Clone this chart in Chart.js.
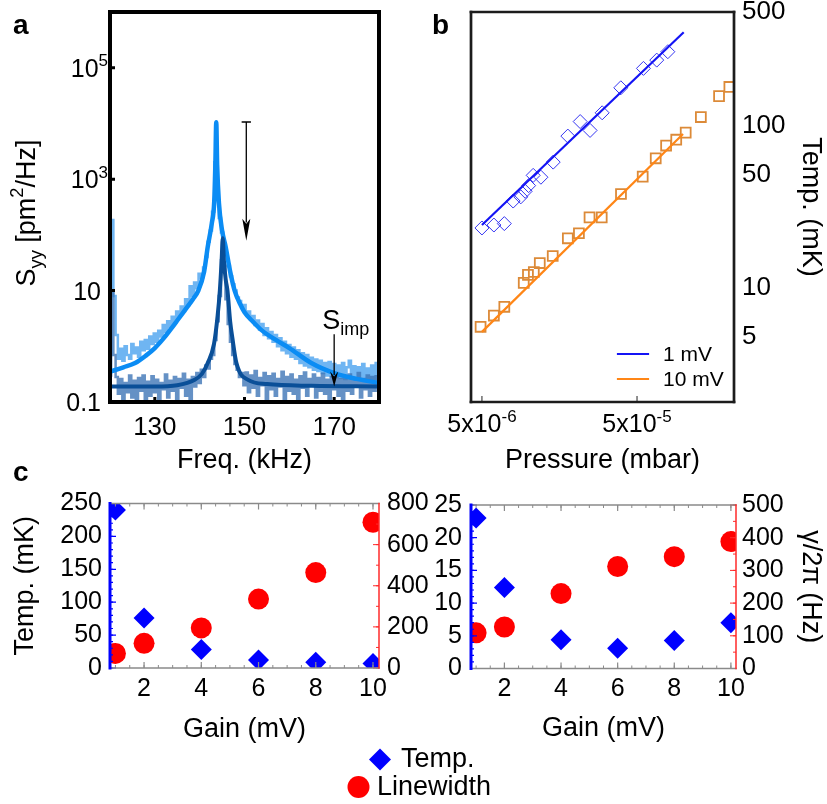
<!DOCTYPE html>
<html>
<head>
<meta charset="utf-8">
<script src="https://cdn.jsdelivr.net/npm/chart.js@4.4.1/dist/chart.umd.min.js"></script>
<style>
html, body { margin: 0; padding: 0; background: #fff; }
body { width: 827px; height: 804px; position: relative; overflow: hidden; font-family: 'Liberation Sans', Arial, sans-serif; }
canvas { position: absolute; }
.lbl { position: absolute; font-weight: bold; font-size: 28px; line-height: 28px; color: #000; }
</style>
</head>
<body>
<canvas id="chartA" width="400" height="480" style="left:0;top:0"></canvas>
<canvas id="chartB" width="427" height="480" style="left:400px;top:0"></canvas>
<canvas id="chartC1" width="440" height="324" style="left:0;top:480px"></canvas>
<canvas id="chartC2" width="427" height="324" style="left:400px;top:480px"></canvas>
<canvas id="legendC" width="827" height="64" style="left:0;top:740px"></canvas>
<div class="lbl" style="left:13px;top:11px">a</div>
<div class="lbl" style="left:432px;top:11px">b</div>
<div class="lbl" style="left:13px;top:458px">c</div>

<script>
// ---- panel a : displacement spectra ----
const gridFreq = [
  120,120.5,121,121.5,122,122.5,123,123.5,124,124.5,
  125,125.5,126,126.5,127,127.5,128,128.5,129,129.5,
  130,130.5,131,131.5,132,132.5,133,133.5,134,134.5,
  135,135.5,136,136.5,137,137.5,138,138.5,139,139.5,
  140,140.5,141,141.5,142,142.5,143,143.5,144,144.5,
  145,145.5,146,146.5,147,147.5,148,148.5,149,149.5,
  150,150.5,151,151.5,152,152.5,153,153.5,154,154.5,
  155,155.5,156,156.5,157,157.5,158,158.5,159,159.5,
  160,160.5,161,161.5,162,162.5,163,163.5,164,164.5,
  165,165.5,166,166.5,167,167.5,168,168.5,169,169.5,
  170,170.5,171,171.5,172,172.5,173,173.5,174,174.5,
  175,175.5,176,176.5,177,177.5,178,178.5,179,179.5,
  180
];
const rawWarm = [
  0.7,185,8,1.6,0.6,0.9,0.55,1.0,0.7,0.6,
  1.1,0.75,0.95,0.65,1.2,0.85,1.3,0.9,1.5,1.1,
  1.7,1.2,1.9,1.5,2.4,1.8,2.8,2.2,3.4,2.7,
  4.2,3.4,5.2,4.3,7,5.5,12,8,14,11,
  20,17,26,40,75,120,260,2000,900,200,
  110,70,45,28,18,13,10,7.5,6.5,5,
  5.5,3.8,4.2,3.0,3.5,2.4,2.9,2.0,2.5,1.6,
  2.1,1.4,1.8,1.2,1.6,1.0,1.4,0.85,1.2,0.75,
  1.05,0.65,0.95,0.6,0.85,0.5,0.75,0.45,0.7,0.42,
  0.62,0.38,0.58,0.36,0.55,0.33,0.5,0.3,0.52,0.29,
  0.48,0.28,0.45,0.27,0.5,0.26,0.42,0.55,0.27,0.44,
  0.25,0.42,0.26,0.48,0.25,0.4,0.24,0.45,0.26,0.5,
  0.3
];
const rawCold = [
  0.3,10,0.7,0.28,0.14,0.26,0.1,0.22,0.15,0.3,
  0.12,0.24,0.08,0.27,0.16,0.3,0.11,0.23,0.13,0.29,
  0.15,0.25,0.09,0.22,0.17,0.31,0.12,0.24,0.16,0.28,
  0.11,0.26,0.18,0.32,0.13,0.25,0.07,0.28,0.19,0.33,
  0.22,0.38,0.28,0.45,0.4,0.6,0.7,1.3,2.8,8,
  35,28,7,2.5,1.2,0.7,0.48,0.38,0.28,0.33,
  0.2,0.34,0.15,0.3,0.18,0.36,0.13,0.27,0.2,0.33,
  0.11,0.29,0.17,0.32,0.13,0.26,0.19,0.35,0.1,0.28,
  0.16,0.31,0.14,0.25,0.09,0.29,0.18,0.34,0.13,0.26,
  0.2,0.31,0.12,0.27,0.16,0.32,0.14,0.25,0.1,0.28,
  0.17,0.3,0.13,0.26,0.07,0.27,0.16,0.31,0.14,0.25,
  0.19,0.33,0.12,0.26,0.17,0.3,0.13,0.28,0.16,0.29,
  0.2
];
const fitWarmF = [120,123,125.6,128,130,132,133.4,135,137,138.5,139.7,141,141.8,142.7,143.25,143.5,143.7,143.9,144.3,145,145.8,146.8,147.8,149,150,152,153.8,157,160,164.9,170,175,180];
const fitWarmS = [0.35,0.42,0.5,0.68,0.93,1.4,1.95,2.9,4.8,7,10,22,61,160,400,1800,10500,1800,372,120,61,22,10,5.8,4.1,2.7,1.95,1.3,0.93,0.5,0.33,0.26,0.22];
const fitColdF = [120,130,135,138.9,140.5,141.8,143.2,144.0,144.5,144.9,145.15,145.4,145.8,146.2,146.8,147.3,148.2,150.8,155,165,180];
const fitColdS = [0.19,0.19,0.2,0.25,0.32,0.5,1.1,3.5,10,35,87,35,16,10,2.8,1.4,0.5,0.25,0.21,0.195,0.19];
const aXTicks = [130, 150, 170];
const aYTicks = [0.1, 10, 1000, 100000];
const aYLabels = [['0.1', ''], ['10', ''], ['10', '3'], ['10', '5']];
const coolArrow = { f: 150.4, from: 1.06e4, to: 78 };
const impArrow = { f: 170, from: 1.6, to: 0.19 };

// ---- panel b : temperature vs pressure ----
const p1mV = [5.0e-6,5.97e-6,6.97e-6,7.95e-6,8.9e-6,9.5e-6,1.0e-5,1.07e-5,1.2e-5,1.44e-5,1.79e-5,2.15e-5,2.49e-5,2.98e-5,3.93e-5,5.5e-5,6.7e-5,7.9e-5];
const t1mV = [23.5,24.5,25,34.4,36.5,39.5,42.8,49.5,48.2,59.7,86.3,106,93.5,120,171,225,253,285];
const p10mV = [4.9e-6,5.97e-6,6.97e-6,9.3e-6,9.9e-6,1.08e-5,1.18e-5,1.43e-5,1.79e-5,2.11e-5,2.47e-5,2.96e-5,3.94e-5,5.44e-5,6.6e-5,7.7e-5,8.95e-5,1.03e-4,1.29e-4,1.69e-4,1.97e-4];
const t10mV = [5.8,6.8,7.7,10.8,12.1,12.6,14.3,15.8,20.3,21.8,27.3,27.3,38,48.6,63,75.5,82,90.6,113,152,173];
const fit1mVP = [5e-6, 1e-4];
const fit1mVT = [24.5, 375];
const fit10mVP = [5e-6, 9.9e-5];
const fit10mVT = [5.4, 89];
const bXTicks = [5e-6, 5e-5];
const bXLabels = [['5x10', '-6'], ['5x10', '-5']];
const bYTicks = [5, 10, 50, 100, 500];

// ---- panel c : gain sweeps ----
const gain = [1, 2, 4, 6, 8, 10];
const gainTicks = [2, 4, 6, 8, 10];
const tempLeft = [240, 76, 28, 12, 8.6, 7];
const widthLeft = [71, 120, 195, 335, 464, 709];
const tempRight = [23.0, 12.4, 4.4, 3.1, 4.3, 7.0];
const widthRight = [109, 127, 229, 312, 342, 388];
const legendLabels = ['Temp.', 'Linewidth'];

const FONT = "'Liberation Sans', Arial, sans-serif";
Chart.defaults.font.family = FONT;
Chart.defaults.color = '#000';

function zip(xs, ys) { return xs.map((x, i) => ({ x: x, y: ys[i] })); }
function onlyTicks(vals) { return s => { s.ticks = vals.map(v => ({ value: v })); }; }
function fixW(w) { return s => { s.width = w; s.paddingTop = 0; s.paddingBottom = 0; }; }
function fixH(h) { return s => { s.height = h; s.paddingLeft = 0; s.paddingRight = 0; }; }
function range(a, b, st) { const r = []; for (let v = a; v <= b + 1e-9; v += st) r.push(+v.toFixed(6)); return r; }

// text with sub/superscripts; y is the vertical centre of the capitals
function richText(ctx, segs, x, y, size, rot, align) {
  ctx.save();
  ctx.translate(x, y);
  ctx.rotate(rot || 0);
  const parts = segs.filter(s => s.t).map(s => {
    const sz = (s.sub || s.sup) ? size * 0.68 : size;
    ctx.font = sz + 'px ' + FONT;
    return { s: s, sz: sz, w: ctx.measureText(s.t).width };
  });
  const total = parts.reduce((t, p) => t + p.w, 0);
  let cx = align === 'right' ? -total : align === 'left' ? 0 : -total / 2;
  ctx.fillStyle = '#000';
  ctx.textBaseline = 'alphabetic';
  ctx.textAlign = 'left';
  parts.forEach(p => {
    ctx.font = p.sz + 'px ' + FONT;
    const dy = p.s.sub ? size * 0.26 : p.s.sup ? -size * 0.42 : 0;
    ctx.fillText(p.s.t, cx, size * 0.36 + dy);
    cx += p.w;
  });
  ctx.restore();
}

// frame edges, inward tick marks and extras
function decor(cfg) {
  return {
    id: 'decor',
    afterDatasetsDraw(chart) {
      const ctx = chart.ctx, a = chart.chartArea;
      ctx.save();
      (cfg.marks || []).forEach(m => {
        const sc = chart.scales[m.scale];
        ctx.strokeStyle = m.color;
        ctx.lineWidth = m.width;
        ctx.beginPath();
        m.values.forEach(v => {
          const p = sc.getPixelForValue(v);
          if (m.edge === 'bottom') { ctx.moveTo(p, a.bottom); ctx.lineTo(p, a.bottom - m.len); }
          if (m.edge === 'top') { ctx.moveTo(p, a.top); ctx.lineTo(p, a.top + m.len); }
          if (m.edge === 'left') { ctx.moveTo(a.left, p); ctx.lineTo(a.left + m.len, p); }
          if (m.edge === 'right') { ctx.moveTo(a.right, p); ctx.lineTo(a.right - m.len, p); }
        });
        ctx.stroke();
      });
      const ed = cfg.edges || {};
      Object.keys(ed).forEach(k => {
        const e = ed[k];
        ctx.strokeStyle = e.color;
        ctx.lineWidth = e.width;
        ctx.lineCap = 'square';
        ctx.beginPath();
        if (k === 'top') { ctx.moveTo(a.left, a.top); ctx.lineTo(a.right, a.top); }
        if (k === 'bottom') { ctx.moveTo(a.left, a.bottom); ctx.lineTo(a.right, a.bottom); }
        if (k === 'left') { ctx.moveTo(a.left, a.top); ctx.lineTo(a.left, a.bottom); }
        if (k === 'right') { ctx.moveTo(a.right, a.top); ctx.lineTo(a.right, a.bottom); }
        ctx.stroke();
      });
      if (cfg.extra) cfg.extra(chart, ctx);
      ctx.restore();
    }
  };
}

function arrowDown(ctx, x, y0, y1, head, half, cap) {
  ctx.beginPath();
  if (cap) { ctx.moveTo(x - cap, y0); ctx.lineTo(x + cap, y0); }
  ctx.moveTo(x, y0);
  ctx.lineTo(x, y1 - head + 3);
  ctx.stroke();
  ctx.beginPath();
  ctx.moveTo(x, y1);
  ctx.lineTo(x - half, y1 - head);
  ctx.lineTo(x, y1 - head + 5);
  ctx.lineTo(x + half, y1 - head);
  ctx.closePath();
  ctx.fill();
}

const noGrid = { display: false, drawTicks: false };
const noBorder = { display: false };

// ---------- chart a ----------
new Chart(document.getElementById('chartA'), {
  type: 'line',
  data: {
    labels: gridFreq,
    datasets: [
      { label: 'fit cold', data: zip(fitColdF, fitColdS), borderColor: '#0a4f98', borderWidth: 4, pointRadius: 0, cubicInterpolationMode: 'monotone' },
      { label: 'fit warm', data: zip(fitWarmF, fitWarmS), borderColor: '#0b8cf4', borderWidth: 4.5, pointRadius: 0, cubicInterpolationMode: 'monotone' },
      { label: 'raw cold', data: rawCold, borderColor: 'rgba(62,118,182,0.8)', borderWidth: 2.5, pointRadius: 0, stepped: 'middle' },
      { label: 'raw warm', data: rawWarm, borderColor: 'rgba(86,168,240,0.85)', borderWidth: 2.5, pointRadius: 0, stepped: 'middle' }
    ]
  },
  options: {
    responsive: false, animation: false, events: [],
    layout: { padding: { left: 0, right: 21, top: 12, bottom: 0 } },
    plugins: { legend: { display: false }, tooltip: { enabled: false } },
    scales: {
      x: {
        type: 'linear', min: 120, max: 180,
        afterBuildTicks: onlyTicks(aXTicks), afterFit: fixH(78),
        grid: noGrid, border: noBorder,
        ticks: { font: { size: 26 }, padding: 10, maxRotation: 0, autoSkip: false },
        title: { display: true, text: 'Freq. (kHz)', font: { size: 27 }, padding: { top: 0, bottom: 3 } }
      },
      y: {
        type: 'logarithmic', min: 0.1, max: 1e6,
        afterBuildTicks: onlyTicks(aYTicks), afterFit: fixW(110),
        grid: noGrid, border: noBorder,
        ticks: { display: false }
      }
    }
  },
  plugins: [decor({
    marks: [
      { scale: 'y', edge: 'left', values: aYTicks.slice(1), len: 5, width: 3, color: '#000' },
      { scale: 'x', edge: 'bottom', values: aXTicks, len: 5, width: 3, color: '#000' }
    ],
    edges: {
      top: { color: '#000', width: 4 }, bottom: { color: '#000', width: 4 },
      left: { color: '#000', width: 4 }, right: { color: '#000', width: 4 }
    },
    extra(chart, ctx) {
      const xs = chart.scales.x, ys = chart.scales.y, a = chart.chartArea;
      // y tick labels with exponents
      aYTicks.forEach((v, i) => {
        const lab = aYLabels[i];
        richText(ctx, [{ t: lab[0] }, { t: lab[1], sup: true }], a.left - (lab[1] ? 2 : 9), ys.getPixelForValue(v), 25, 0, 'right');
      });
      ctx.strokeStyle = '#000';
      ctx.fillStyle = '#000';
      ctx.lineWidth = 1.3;
      arrowDown(ctx, xs.getPixelForValue(coolArrow.f), ys.getPixelForValue(coolArrow.from), ys.getPixelForValue(coolArrow.to), 22, 4, 4);
      const ix = xs.getPixelForValue(impArrow.f), iy = ys.getPixelForValue(impArrow.from);
      arrowDown(ctx, ix, iy, ys.getPixelForValue(impArrow.to), 15, 4, 0);
      ctx.textBaseline = 'alphabetic';
      ctx.textAlign = 'left';
      ctx.font = '27px ' + FONT;
      ctx.fillText('S', ix - 12, iy - 6);
      ctx.font = '18px ' + FONT;
      ctx.fillText('imp', ix + 6, iy);
      richText(ctx, [{ t: 'S' }, { t: 'yy', sub: true }, { t: ' [pm' }, { t: '2', sup: true }, { t: '/Hz]' }], 25, 213, 27, -Math.PI / 2);
    }
  })]
});

// ---------- chart b ----------
new Chart(document.getElementById('chartB'), {
  type: 'scatter',
  data: {
    datasets: [
      { label: '1 mV', data: zip(fit1mVP, fit1mVT), showLine: true, borderColor: '#1414f5', borderWidth: 2.2, pointRadius: 0 },
      { label: '10 mV', data: zip(fit10mVP, fit10mVT), showLine: true, borderColor: '#ff8616', borderWidth: 2.2, pointRadius: 0 },
      { label: '1 mV data', data: zip(p1mV, t1mV), pointStyle: 'rectRot', pointRadius: 7, borderColor: '#3434f2', borderWidth: 1, backgroundColor: 'rgba(0,0,0,0)' },
      { label: '10 mV data', data: zip(p10mV, t10mV), pointStyle: 'rect', pointRadius: 7, borderColor: '#dc8a38', borderWidth: 1.8, backgroundColor: 'rgba(0,0,0,0)' }
    ]
  },
  options: {
    responsive: false, animation: false, events: [],
    layout: { padding: { left: 71, right: 0, top: 12, bottom: 0 } },
    plugins: { legend: { display: false }, tooltip: { enabled: false } },
    scales: {
      x: {
        type: 'logarithmic', min: 4.25e-6, max: 2.11e-4,
        afterBuildTicks: onlyTicks(bXTicks), afterFit: fixH(78),
        grid: noGrid, border: noBorder,
        ticks: { display: false },
        title: { display: true, text: 'Pressure (mbar)', font: { size: 27 }, padding: { top: 0, bottom: 3 } }
      },
      y: {
        type: 'logarithmic', position: 'right', min: 2, max: 500,
        afterBuildTicks: onlyTicks(bYTicks), afterFit: fixW(93),
        grid: noGrid, border: noBorder,
        ticks: { font: { size: 26 }, padding: 8, autoSkip: false, callback: v => String(v) },
        title: { display: true, text: 'Temp. (mK)', font: { size: 27 }, padding: { top: 0, bottom: 0 } }
      }
    }
  },
  plugins: [decor({
    marks: [{ scale: 'x', edge: 'bottom', values: bXTicks, len: 6, width: 1, color: '#222' }],
    edges: {
      top: { color: '#1c1c1c', width: 2.7 }, bottom: { color: '#1c1c1c', width: 2.7 },
      left: { color: '#1c1c1c', width: 2.7 }, right: { color: '#1c1c1c', width: 2.7 }
    },
    extra(chart, ctx) {
      const xs = chart.scales.x, a = chart.chartArea;
      bXTicks.forEach((v, i) => {
        richText(ctx, [{ t: bXLabels[i][0] }, { t: bXLabels[i][1], sup: true }], xs.getPixelForValue(v), a.bottom + 21, 25, 0, 'center');
      });
      const items = chart.data.datasets.slice(0, 2);
      ctx.font = '21px ' + FONT;
      ctx.textBaseline = 'middle';
      ctx.textAlign = 'left';
      items.forEach((d, i) => {
        const y = 354 + i * 25;
        ctx.strokeStyle = d.borderColor;
        ctx.lineWidth = 2.2;
        ctx.beginPath();
        ctx.moveTo(218, y);
        ctx.lineTo(248, y);
        ctx.stroke();
        ctx.fillStyle = '#000';
        ctx.fillText(d.label, 263, y + 1);
      });
    }
  })]
});

// ---------- charts c ----------
function gainChart(id, c) {
  return new Chart(document.getElementById(id), {
    type: 'scatter',
    data: {
      datasets: [
        { label: legendLabels[0], data: zip(gain, c.temp), yAxisID: 'y', pointStyle: 'rectRot', pointRadius: 10.5, backgroundColor: '#0000ff', borderWidth: 0, clip: 0 },
        { label: legendLabels[1], data: zip(gain, c.width), yAxisID: 'y1', pointStyle: 'circle', pointRadius: 10.5, backgroundColor: '#ff0000', borderWidth: 0, clip: 0 }
      ]
    },
    options: {
      responsive: false, animation: false, events: [],
      layout: { padding: { left: 0, right: 0, top: c.top, bottom: 0 } },
      plugins: { legend: { display: false }, tooltip: { enabled: false } },
      scales: {
        x: {
          type: 'linear', min: c.xmin, max: c.xmax,
          afterBuildTicks: onlyTicks(gainTicks), afterFit: fixH(c.xh),
          grid: noGrid, border: noBorder,
          ticks: { font: { size: 25 }, padding: 6, maxRotation: 0, autoSkip: false },
          title: { display: true, text: 'Gain (mV)', font: { size: 27 }, padding: { top: 0, bottom: c.titlePad } }
        },
        y: {
          min: 0, max: c.tMax, afterFit: fixW(c.lw),
          grid: noGrid, border: noBorder,
          ticks: { font: { size: 25 }, padding: c.lpad, stepSize: c.tStep, autoSkip: false },
          title: { display: !!c.lTitle, text: c.lTitle || '', font: { size: 27 }, padding: { top: 9, bottom: 0 } }
        },
        y1: {
          position: 'right', min: 0, max: c.wMax, afterFit: fixW(c.rw),
          grid: noGrid, border: noBorder,
          ticks: { font: { size: 25 }, padding: c.rpad, stepSize: c.wStep, autoSkip: false },
          title: { display: !!c.rTitle, text: c.rTitle || '', font: { size: 27 }, padding: { top: 0, bottom: 0 } }
        }
      }
    },
    plugins: [decor({
      marks: [
        { scale: 'x', edge: 'top', values: range(1, 10, 0.5), len: 3, width: 1, color: '#8a8a8a' },
        { scale: 'x', edge: 'bottom', values: range(1, 10, 0.5), len: 3, width: 1, color: '#8a8a8a' },
        { scale: 'x', edge: 'top', values: gainTicks, len: 6, width: 1.2, color: '#8a8a8a' },
        { scale: 'x', edge: 'bottom', values: gainTicks, len: 6, width: 1.2, color: '#8a8a8a' },
        { scale: 'y', edge: 'left', values: range(0, c.tMax, c.tMinor), len: 3, width: 1.2, color: '#0000ff' },
        { scale: 'y', edge: 'left', values: range(0, c.tMax, c.tStep), len: 6, width: 1.2, color: '#0000ff' },
        { scale: 'y1', edge: 'right', values: range(0, c.wMax, c.wMinor), len: 3, width: 1, color: '#ff2a2a' },
        { scale: 'y1', edge: 'right', values: range(0, c.wMax, c.wStep), len: 6, width: 1, color: '#ff2a2a' }
      ],
      edges: {
        top: { color: '#8a8a8a', width: 1.5 }, bottom: { color: '#8a8a8a', width: 1.5 },
        left: { color: '#0000ff', width: 3 }, right: { color: '#ff2a2a', width: 1.5 }
      }
    })]
  });
}

gainChart('chartC1', {
  temp: tempLeft, width: widthLeft, top: 23.5, xmin: 0.81, xmax: 10.21, xh: 136, titlePad: 58,
  lw: 110, rw: 61, lpad: 8, rpad: 8, tMax: 250, tStep: 50, tMinor: 10, wMax: 800, wStep: 200, wMinor: 100,
  lTitle: 'Temp. (mK)'
});
gainChart('chartC2', {
  temp: tempRight, width: widthRight, top: 25, xmin: 0.82, xmax: 10.18, xh: 135.5, titlePad: 59,
  lw: 71, rw: 91, lpad: 9, rpad: 6, tMax: 25, tStep: 5, tMinor: 1, wMax: 500, wStep: 100, wMinor: 50,
  rTitle: '\u03B3/2\u03C0 (Hz)'
});

// ---------- shared legend for c ----------
(function () {
  const ctx = document.getElementById('legendC').getContext('2d');
  ctx.fillStyle = '#0000ff';
  ctx.beginPath();
  ctx.moveTo(380, 8.5); ctx.lineTo(391, 19.5); ctx.lineTo(380, 30.5); ctx.lineTo(369, 19.5);
  ctx.closePath();
  ctx.fill();
  ctx.fillStyle = '#ff0000';
  ctx.beginPath();
  ctx.arc(358.5, 47, 11, 0, Math.PI * 2);
  ctx.fill();
  ctx.fillStyle = '#000';
  ctx.font = '27px ' + FONT;
  ctx.textBaseline = 'alphabetic';
  ctx.fillText(legendLabels[0], 401, 27);
  ctx.fillText(legendLabels[1], 377, 55);
})();
</script>
</body>
</html>
